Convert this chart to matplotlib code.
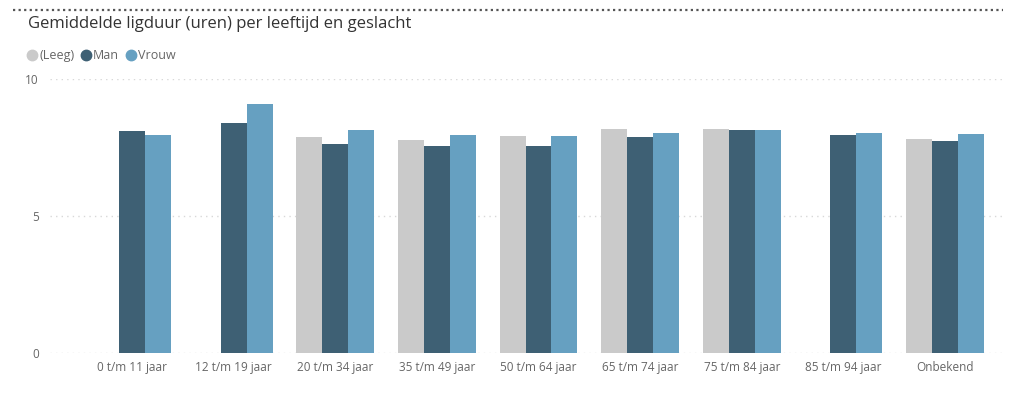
import numpy as np
import matplotlib.pyplot as plt
from matplotlib.lines import Line2D

categories = ["0 t/m 11 jaar", "12 t/m 19 jaar", "20 t/m 34 jaar", "35 t/m 49 jaar",
              "50 t/m 64 jaar", "65 t/m 74 jaar", "75 t/m 84 jaar", "85 t/m 94 jaar",
              "Onbekend"]
leeg = [np.nan, np.nan, 7.87, 7.76, 7.91, 8.16, 8.16, np.nan, 7.81]
man = [8.11, 8.38, 7.63, 7.57, 7.55, 7.88, 8.13, 7.96, 7.73]
vrouw = [7.94, 9.10, 8.13, 7.97, 7.93, 8.04, 8.13, 8.03, 8.00]
series_names = ["(Leeg)", "Man", "Vrouw"]
colors = ["#CACACA", "#3E6074", "#66A0C1"]

plt.rcParams["font.family"] = ["Open Sans", "DejaVu Sans"]

W, H = 1024, 395
fig = plt.figure(figsize=(W / 100, H / 100), dpi=100)

# axes placed in pixel terms
left, right, top, bottom = 50, 1005, 79, 353
ax = fig.add_axes([left / W, 1 - bottom / H, (right - left) / W, (bottom - top) / H])

x = np.arange(len(categories))
bw = 0.255
for k, (vals, c) in enumerate(zip([leeg, man, vrouw], colors)):
    ax.bar(x + (k - 1) * bw, vals, width=bw, color=c, zorder=3)

ax.set_xlim(-0.807, 8.59)
ax.set_ylim(0, 10)
ax.set_yticks([0, 5, 10])
ax.set_xticks(x)
ax.set_xticklabels(categories)
ax.tick_params(axis="both", length=0, colors="#666666", labelsize=8.5)
ax.tick_params(axis="x", pad=6)
ax.tick_params(axis="y", pad=8)
for s in ax.spines.values():
    s.set_visible(False)
ax.grid(axis="y", color="#D8D8D8", linestyle=(0, (1, 3)), linewidth=1, zorder=0)
ax.grid(axis="x", visible=False)

# top dotted border
fig.add_artist(Line2D([13 / W, 1003 / W], [1 - 10 / H, 1 - 10 / H], color="#555555",
                      linestyle=(0, (1, 1.5)), linewidth=1.6))

fig.text(28 / W, 1 - 24 / H, "Gemiddelde ligduur (uren) per leeftijd en geslacht",
         fontsize=12, color="#333333", va="center", ha="left")

# legend
lx = 32
ly = 1 - 55 / H
for name, c in zip(series_names, colors):
    fig.add_artist(Line2D([lx / W], [ly], marker="o", markersize=7.5, color=c,
                          linestyle="none"))
    t = fig.text((lx + 7) / W, ly - 4.5 / H, name, color="#666666", fontsize=9,
                 va="baseline", ha="left")
    fig.canvas.draw()
    bb = t.get_window_extent()
    lx = bb.x1 + 12

fig.savefig("out.png", dpi=100)
plt.close()
